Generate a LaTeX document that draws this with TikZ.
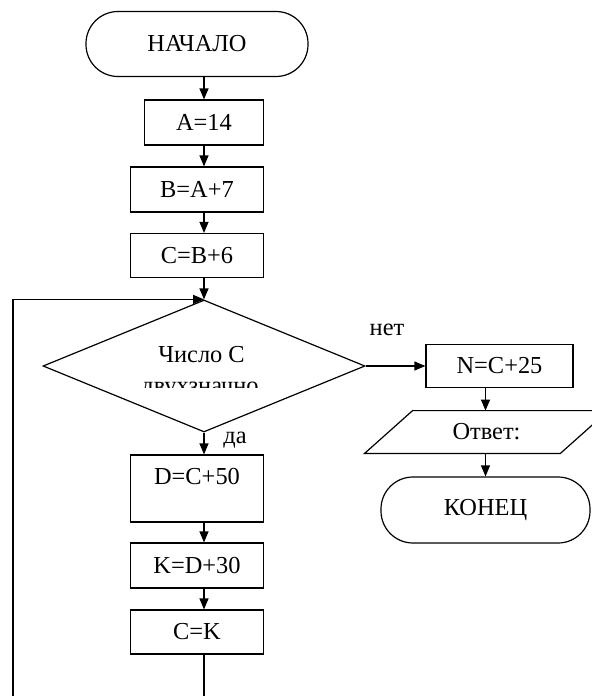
\documentclass[tikz,border=0pt]{standalone}
\usepackage{fontspec}
\setmainfont{Liberation Serif}
\usetikzlibrary{arrows.meta, shapes.geometric}

\begin{document}
\begin{tikzpicture}[
      x=0.5pt, y=-0.5pt,
      every node/.style={font=\fontsize{12.2}{14}\selectfont, inner sep=0pt},
      block/.style={draw, line width=0.6pt, minimum width=66.5pt, minimum height=22.5pt},
      term/.style={draw, line width=0.6pt, rounded corners=16pt, minimum height=32.5pt},
      io/.style={minimum width=97.5pt, minimum height=21pt},
      decision/.style={draw, line width=0.6pt, diamond, minimum width=161pt, minimum height=66pt},
      arrow/.style={-{Triangle[length=5.5pt, width=4.5pt]}, line width=0.6pt}
    ]
    \useasboundingbox (0,0) rectangle (592,696);
    \clip (0,0) rectangle (592,696);

    % main column
    \node[term, minimum width=111pt] (start) at (197,44) {НАЧАЛО};
    \node[block, minimum width=59.5pt] (a) at (204,122.5) {A=14};
    \node[block] (b) at (197,189.5) {B=A+7};
    \node[block, minimum height=22pt] (c) at (197,255.5) {C=B+6};
    \node[decision] (dec) at (204,366) {};
    \node[anchor=base] (qtop) at (201.5,362) {Число С};
    \begin{scope}
      \clip (100,370) rectangle (310,387.5);
      \node[anchor=base] (qbot) at (200,393) {двухзначно};
    \end{scope}
    \node[block, minimum height=33.5pt, text height=8pt, text depth=12pt] (d) at (197,488.5) {D=C+50};
    \node[block] (k) at (197,565.5) {K=D+30};
    \node[block, minimum height=22pt] (ck) at (197,632) {C=K};

    % right branch
    \node[block, minimum width=73.5pt, minimum height=21.5pt] (n) at (499.5,366) {N=C+25};
    \node[io] (out) at (486.5,432) {Ответ:};
    \draw[line width=0.6pt] ([xshift=-12pt]out.south west) -- ([xshift=-12pt]out.south east)
      -- ([xshift=12pt]out.north east) -- ([xshift=12pt]out.north west) -- cycle;
    \node[term, minimum width=104.5pt, minimum height=33pt] (stop) at (485.5,510) {КОНЕЦ};

    \node[anchor=base] (yes) at (235,443) {да};
    \node[anchor=base] (no) at (387,335) {нет};

    \coordinate (loopbot) at (204,720);
    \coordinate (loopleft) at (13,720);

    \draw[arrow] (start.south -| a) -- (a.north);
    \draw[arrow] (a.south) -- (b.north -| a);
    \draw[arrow] (b.south -| a) -- (c.north -| a);
    \draw[arrow] (c.south -| dec) -- (dec.north);
    \draw[arrow] (dec.south) -- (d.north -| dec);
    \draw[arrow] (d.south -| dec) -- (k.north -| dec);
    \draw[arrow] (k.south -| dec) -- (ck.north -| dec);
    \draw[arrow] (ck.south -| dec) -- (loopbot) -- (loopleft) |- (dec.north);
    \draw[arrow] (dec.east) -- (n.west);
    \draw[arrow] (n.south -| stop) -- (out.north -| stop);
    \draw[arrow] (out.south -| stop) -- (stop.north);
\end{tikzpicture}
\end{document}
